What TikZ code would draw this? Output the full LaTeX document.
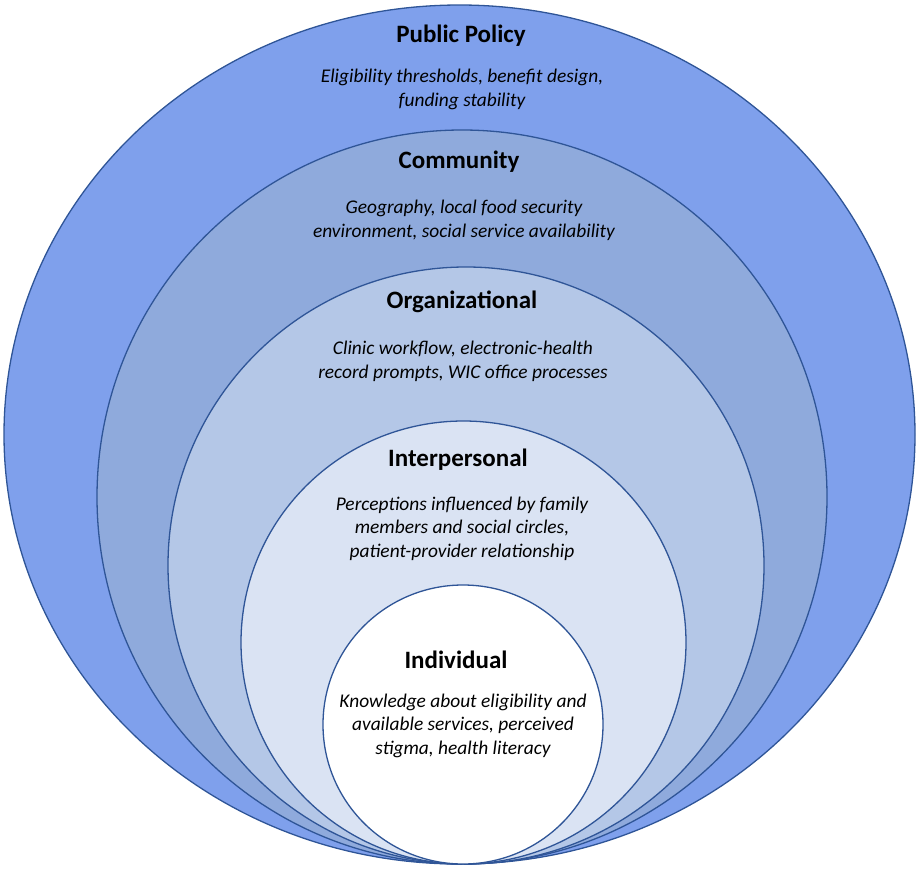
\documentclass[tikz,border=0pt]{standalone}
\usepackage{fontspec}
\setmainfont{Carlito}
\usetikzlibrary{shapes.geometric}
\definecolor{edgeblue}{HTML}{2F5597}
\definecolor{cPolicy}{HTML}{7FA0EC}
\definecolor{cCommunity}{HTML}{8FAADC}
\definecolor{cOrg}{HTML}{B4C7E7}
\definecolor{cInter}{HTML}{DAE3F3}
\definecolor{cIndiv}{HTML}{FFFFFF}
\tikzset{
  ring/.style={ellipse, draw=edgeblue, line width=1.3pt, inner sep=0pt},
  ttl/.style={font=\fontsize{25}{28}\selectfont\bfseries, text=black, inner sep=0pt},
  desc/.style={font=\fontsize{19.4}{23.5}\selectfont\itshape, text=black, align=center, inner sep=0pt}
}
\begin{document}
\begin{tikzpicture}[x=1pt,y=-1pt]
\useasboundingbox (0,0) rectangle (921,870);
\node[ring, fill=cPolicy, minimum width=911pt, minimum height=859pt] (policy) at (459.5,434.5) {};
\node[ring, fill=cCommunity, minimum width=730pt, minimum height=734pt] (community) at (462,497) {};
\node[ring, fill=cOrg, minimum width=596pt, minimum height=597pt] (org) at (466,565.5) {};
\node[ring, fill=cInter, minimum width=445pt, minimum height=443pt] (inter) at (463.5,642.5) {};
\node[ring, fill=cIndiv, minimum width=280pt, minimum height=279pt] (indiv) at (463,724.5) {};

\node[ttl] (tPolicy) at (461,36) {Public Policy};
\node[desc] (dPolicy) at (462,89.5) {Eligibility thresholds, benefit design,\\funding stability};

\node[ttl] (tCommunity) at (459,162) {Community};
\node[desc] (dCommunity) at (464,220.5) {Geography, local food security\\environment, social service availability};

\node[ttl] (tOrg) at (462,302) {Organizational};
\node[desc] (dOrg) at (463,361.5) {Clinic workflow, electronic-health\\record prompts, WIC office processes};

\node[ttl] (tInter) at (458,460) {Interpersonal};
\node[desc] (dInter) at (462,528.5) {Perceptions influenced by family\\members and social circles,\\patient-provider relationship};

\node[ttl] (tIndiv) at (456,660) {Individual};
\node[desc] (dIndiv) at (463,725.5) {Knowledge about eligibility and\\available services, perceived\\stigma, health literacy};
\end{tikzpicture}
\end{document}
